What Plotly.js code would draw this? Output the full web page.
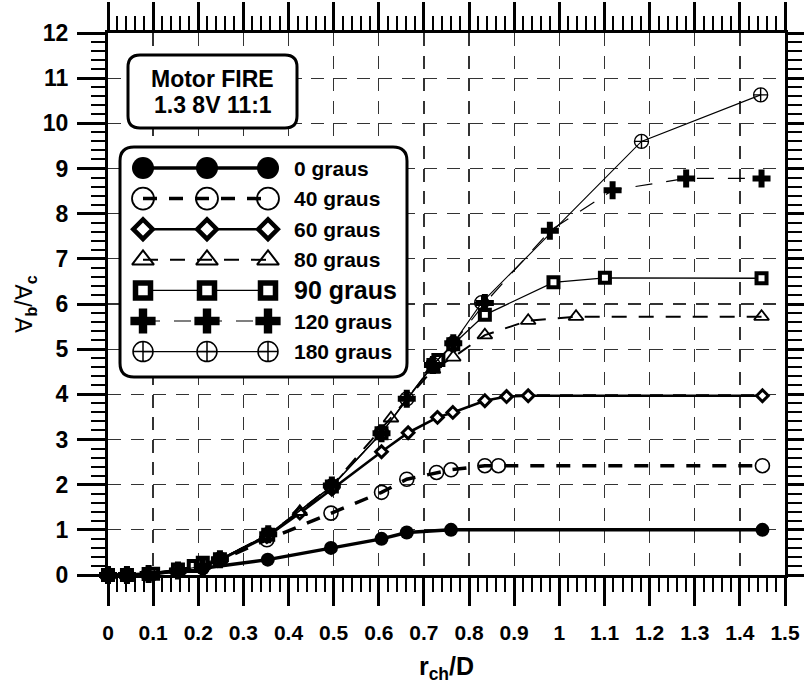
<!DOCTYPE html>
<html><head><meta charset="utf-8">
<script src="https://cdn.plot.ly/plotly-3.0.1.min.js"></script>
<style>html,body{margin:0;padding:0;background:#fff}</style>
</head><body>
<div id="chart" style="width:804px;height:688px"></div>
<script>
// ---------- data ----------
const seriesNames = ['0 graus','40 graus','60 graus','80 graus','90 graus','120 graus','180 graus'];

const x0g = [0,0.042,0.09,0.155,0.21,0.354,0.494,0.606,0.662,0.76,1.45];
const y0g = [0,0,0.02,0.08,0.15,0.34,0.6,0.8,0.94,1.0,1.0];

const x40g = [0,0.042,0.09,0.155,0.21,0.248,0.352,0.494,0.606,0.662,0.728,0.76,0.835,0.865,1.45];
const y40g = [0,0,0.02,0.1,0.2,0.33,0.78,1.37,1.83,2.12,2.27,2.33,2.42,2.42,2.42];

const x60g = [0,0.042,0.09,0.155,0.21,0.248,0.352,0.425,0.496,0.606,0.665,0.73,0.764,0.835,0.883,0.931,1.45];
const y60g = [0,0,0.02,0.1,0.2,0.33,0.85,1.37,1.9,2.73,3.15,3.49,3.6,3.86,3.95,3.97,3.97];

const x80g = [0,0.042,0.09,0.155,0.21,0.248,0.352,0.425,0.496,0.627,0.72,0.765,0.835,0.931,1.037,1.448];
const y80g = [0,0,0.02,0.1,0.2,0.34,0.88,1.4,1.98,3.47,4.55,4.82,5.31,5.63,5.72,5.72];

const x90g = [0,0.042,0.09,0.1,0.155,0.19,0.21,0.248,0.355,0.496,0.606,0.721,0.732,0.765,0.835,0.987,1.101,1.448];
const y90g = [0,0,0.02,0.03,0.12,0.2,0.27,0.35,0.89,1.96,3.14,4.65,4.76,5.11,5.76,6.48,6.58,6.57];

const x120g = [0,0.042,0.09,0.155,0.21,0.248,0.355,0.496,0.606,0.662,0.72,0.765,0.835,0.979,1.118,1.281,1.448];
const y120g = [0,0,0.02,0.1,0.2,0.35,0.9,1.98,3.14,3.9,4.65,5.13,6.02,7.62,8.52,8.78,8.78];

const x180g = [0,0.042,0.09,0.155,0.21,0.248,0.355,0.496,0.606,0.662,0.72,0.765,0.828,1.182,1.446];
const y180g = [0,0,0.02,0.1,0.2,0.35,0.9,1.97,3.15,3.9,4.66,5.13,6.03,9.6,10.63];

const boxText = ['Motor FIRE','1.3 8V 11:1'];
const xTitle = '<b>r<sub>ch</sub>/D</b>';
const yTitle = '∀<sub><b>b</b></sub>/∀<sub><b>c</b></sub>';

// ---------- styles ----------
const FONT = 'Liberation Sans, Arial, Helvetica, sans-serif';
const styles = [
  {sym:'circle',            fill:'black', size:14, mlw:0,   lsize:22, lmlw:0,   lw:3.5, dash:'solid'},
  {sym:'circle-open',       fill:'black', size:14, mlw:1.6, lsize:22, lmlw:1.8, lw:3.5, dash:'14px,12px'},
  {sym:'diamond',           fill:'white', size:9,  mlw:3,   lsize:15, lmlw:4.5, lw:2.6, dash:'solid'},
  {sym:'triangle-up-open',  fill:'black', size:13, mlw:1.8, lsize:19, lmlw:2,   lw:2,   dash:'15px,12px'},
  {sym:'square',            fill:'white', size:10, mlw:4,   lsize:15, lmlw:5.5, lw:1.3, dash:'solid'},
  {sym:'cross',             fill:'black', size:15, mlw:0,   lsize:21, lmlw:0,   lw:1.2, dash:'17px,14px'},
  {sym:'circle-cross-open', fill:'black', size:14, mlw:1.4, lsize:20, lmlw:1.5, lw:1.1, dash:'solid'}
];
const xs = [x0g,x40g,x60g,x80g,x90g,x120g,x180g];
const ys = [y0g,y40g,y60g,y80g,y90g,y120g,y180g];

// ---------- geometry ----------
const W=804, H=688, ML=108, MR=19, MT=33, MB=113;
const PW = W-ML-MR, PH = H-MT-MB;
const XR=[0,1.5], YR=[0,12];
const px2x = p => XR[0] + (p-ML)/PW*(XR[1]-XR[0]);
const py2y = p => YR[0] + (H-MB-p)/PH*(YR[1]-YR[0]);

function roundRect(x0,y0,x1,y1,r){
  const P=(a,b)=>px2x(a)+','+py2y(b);
  return 'M'+P(x0+r,y0)+' L'+P(x1-r,y0)+' Q'+P(x1,y0)+' '+P(x1,y0+r)+
    ' L'+P(x1,y1-r)+' Q'+P(x1,y1)+' '+P(x1-r,y1)+
    ' L'+P(x0+r,y1)+' Q'+P(x0,y1)+' '+P(x0,y1-r)+
    ' L'+P(x0,y0+r)+' Q'+P(x0,y0)+' '+P(x0+r,y0)+' Z';
}

const traces = [];
for (let i=0;i<7;i++){
  const s = styles[i];
  traces.push({
    x: xs[i], y: ys[i], type:'scatter', mode:'lines+markers', name: seriesNames[i],
    showlegend:false, cliponaxis:false,
    line:{color:'black', width:s.lw, dash:s.dash},
    marker:{symbol:s.sym, size:s.size, color:s.fill, line:{color:'black', width:s.mlw}}
  });
}

// legend (custom, 3 samples per row)
const LEG = {x0:120, y0:147, x1:407, y1:377, row0:168, dy:30.6, mx:[143,207,268], tx:292};
const annotations = [];
for (let i=0;i<7;i++){
  const s = styles[i];
  const yy = py2y(LEG.row0 + i*LEG.dy);
  traces.push({
    x: LEG.mx.map(px2x), y: [yy,yy,yy], type:'scatter', mode:'lines+markers',
    showlegend:false, cliponaxis:false, hoverinfo:'skip',
    line:{color:'black', width:s.lw, dash:s.dash},
    marker:{symbol:s.sym, size:s.lsize, color:s.fill, line:{color:'black', width:s.lmlw}}
  });
  annotations.push({
    x: px2x(LEG.tx), y: yy, xref:'x', yref:'y', xanchor:'left', yanchor:'middle',
    text:'<b>'+seriesNames[i]+'</b>', showarrow:false,
    font:{family:FONT, size: i===4?25:21, color:'black'}
  });
}
const TB = {x0:128, y0:55, x1:297, y1:128, l1:79, l2:105};
annotations.push({
  x: px2x((TB.x0+TB.x1)/2), y: py2y(TB.l1), xref:'x', yref:'y', yanchor:'middle',
  text:'<b>'+boxText[0]+'</b>', showarrow:false,
  font:{family:FONT, size:23, color:'black'}
});
annotations.push({
  x: px2x((TB.x0+TB.x1)/2), y: py2y(TB.l2), xref:'x', yref:'y', yanchor:'middle',
  text:'<b>'+boxText[1]+'</b>', showarrow:false,
  font:{family:FONT, size:23, color:'black'}
});

const shapes = [
  {type:'path', path: roundRect(LEG.x0,LEG.y0,LEG.x1,LEG.y1,14), xref:'x', yref:'y',
   fillcolor:'white', line:{color:'black', width:3}, layer:'between'},
  {type:'path', path: roundRect(TB.x0,TB.y0,TB.x1,TB.y1,12), xref:'x', yref:'y',
   fillcolor:'white', line:{color:'black', width:3}, layer:'between'}
];

const axisCommon = {
  ticks:'outside', ticklen:28, tickwidth:3, tickcolor:'black',
  showline:true, linewidth:3, linecolor:'black', mirror:'allticks',
  showgrid:true, gridcolor:'#333', gridwidth:1.3, griddash:'13px,9.6px',
  zeroline:false, fixedrange:true
};

const layout = {
  width:W, height:H, margin:{l:ML, r:MR, t:MT, b:MB},
  paper_bgcolor:'white', plot_bgcolor:'white', showlegend:false,
  xaxis: Object.assign({}, axisCommon, {
    range:XR, tick0:0, dtick:0.1, ticklabelstandoff:9,
    tickfont:{family:FONT, size:21, color:'black', weight:'bold'},
    minor:{dtick:0.02, ticks:'outside', ticklen:14, tickwidth:2, tickcolor:'black', showgrid:false},
    title:{text:xTitle, font:{family:FONT, size:25, color:'black'}, standoff:15}
  }),
  yaxis: Object.assign({}, axisCommon, {
    range:YR, tick0:0, dtick:1, ticklabelstandoff:4,
    tickfont:{family:FONT, size:23, color:'black', weight:'bold'},
    minor:{dtick:0.2, ticks:'outside', ticklen:14, tickwidth:2, tickcolor:'black', showgrid:false},
    title:{text:yTitle, font:{family:FONT, size:23, color:'black'}, standoff:4}
  }),
  shapes: shapes, annotations: annotations
};

Plotly.newPlot('chart', traces, layout, {staticPlot:true, displayModeBar:false});
</script>
</body></html>
